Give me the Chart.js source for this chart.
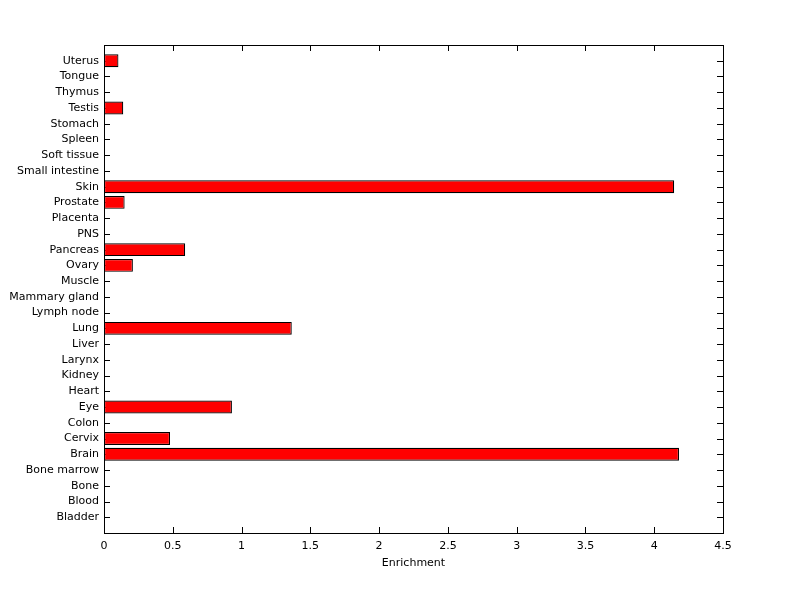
<!DOCTYPE html>
<html>
<head>
<meta charset="utf-8">
<script src="https://cdn.jsdelivr.net/npm/chart.js@4.4.0/dist/chart.umd.min.js"></script>
<style>
  html, body { margin: 0; padding: 0; background: #fff; }
  #wrap { width: 800px; height: 599px; }
</style>
</head>
<body>
<div id="wrap"><canvas id="chartEnrich" width="800" height="599"></canvas></div>
<script>
// ── DATA (bottom → top) ──────────────────────────
const tissues = [
  'Bladder', 'Blood', 'Bone', 'Bone marrow', 'Brain', 'Cervix', 'Colon', 'Eye',
  'Heart', 'Kidney', 'Larynx', 'Liver', 'Lung', 'Lymph node', 'Mammary gland',
  'Muscle', 'Ovary', 'Pancreas', 'PNS', 'Placenta', 'Prostate', 'Skin',
  'Small intestine', 'Soft tissue', 'Spleen', 'Stomach', 'Testis', 'Thymus',
  'Tongue', 'Uterus'
];
const enrichment = [
  0, 0, 0, 0, 4.18, 0.48, 0, 0.93,
  0, 0, 0, 0, 1.365, 0, 0,
  0, 0.21, 0.59, 0, 0, 0.15, 4.145,
  0, 0, 0, 0, 0.14, 0,
  0, 0.105
];
const xTicks = [0, 0.5, 1, 1.5, 2, 2.5, 3, 3.5, 4, 4.5];
const xTitle = 'Enrichment';

const FONT = { family: 'DejaVu Sans, Arial, sans-serif', size: 11 };
const TICK_LEN = 6;

// inward ticks on all four sides + box (matlab style)
const boxTicks = {
  id: 'boxTicks',
  beforeDatasetsDraw(chart) {
    const { ctx, chartArea: a, scales } = chart;
    ctx.save();
    ctx.strokeStyle = '#000';
    ctx.lineWidth = 1;
    ctx.beginPath();
    scales.x.ticks.forEach(t => {
      const px = Math.round(scales.x.getPixelForValue(t.value)) + 0.5;
      ctx.moveTo(px, a.bottom); ctx.lineTo(px, a.bottom - TICK_LEN);
      ctx.moveTo(px, a.top);    ctx.lineTo(px, a.top + TICK_LEN);
    });
    scales.y.ticks.forEach(t => {
      const py = Math.round(scales.y.getPixelForValue(t.value)) + 0.5;
      ctx.moveTo(a.left, py);  ctx.lineTo(a.left + TICK_LEN, py);
      ctx.moveTo(a.right, py); ctx.lineTo(a.right - TICK_LEN, py);
    });
    ctx.stroke();
    ctx.restore();
  },
  afterDatasetsDraw(chart) {
    const { ctx, chartArea: a } = chart;
    ctx.save();
    ctx.strokeStyle = '#000';
    ctx.lineWidth = 1;
    ctx.strokeRect(Math.round(a.left) + 0.5, Math.round(a.top) + 0.5,
      Math.round(a.right - a.left), Math.round(a.bottom - a.top));
    ctx.restore();
  }
};

Chart.defaults.color = '#000';
Chart.defaults.font = FONT;

new Chart(document.getElementById('chartEnrich'), {
  type: 'bar',
  data: {
    datasets: [{
      data: tissues.map((t, i) => ({ x: enrichment[i], y: i + 1 })),
      backgroundColor: '#ff0000',
      borderColor: '#000',
      borderWidth: 1.2,
      borderSkipped: false,
      barPercentage: 0.82,
      categoryPercentage: 1
    }]
  },
  options: {
    indexAxis: 'y',
    responsive: false,
    animation: false,
    layout: { padding: { top: 45, right: 77, left: 0, bottom: 0 } },
    plugins: { legend: { display: false }, tooltip: { enabled: false } },
    scales: {
      x: {
        type: 'linear',
        min: 0, max: 4.5,
        afterBuildTicks: s => { s.ticks = xTicks.map(v => ({ value: v })); },
        grid: { display: false, drawTicks: false },
        border: { display: false },
        ticks: { padding: 7, font: FONT, color: '#000', maxRotation: 0, callback: v => String(v) },
        title: { display: true, text: xTitle, font: FONT, color: '#000', padding: { top: 0, bottom: 29 } },
        afterFit: s => { s.height = 66; }
      },
      y: {
        type: 'linear',
        offset: false,
        min: 0, max: tissues.length + 1,
        afterBuildTicks: s => { s.ticks = tissues.map((t, i) => ({ value: i + 1 })); },
        grid: { display: false, drawTicks: false, offset: false },
        border: { display: false },
        ticks: {
          autoSkip: false, padding: 5, font: FONT, color: '#000',
          callback: v => tissues[v - 1] || ''
        },
        afterFit: s => { s.width = 104; }
      }
    }
  },
  plugins: [boxTicks]
});
</script>
</body>
</html>
